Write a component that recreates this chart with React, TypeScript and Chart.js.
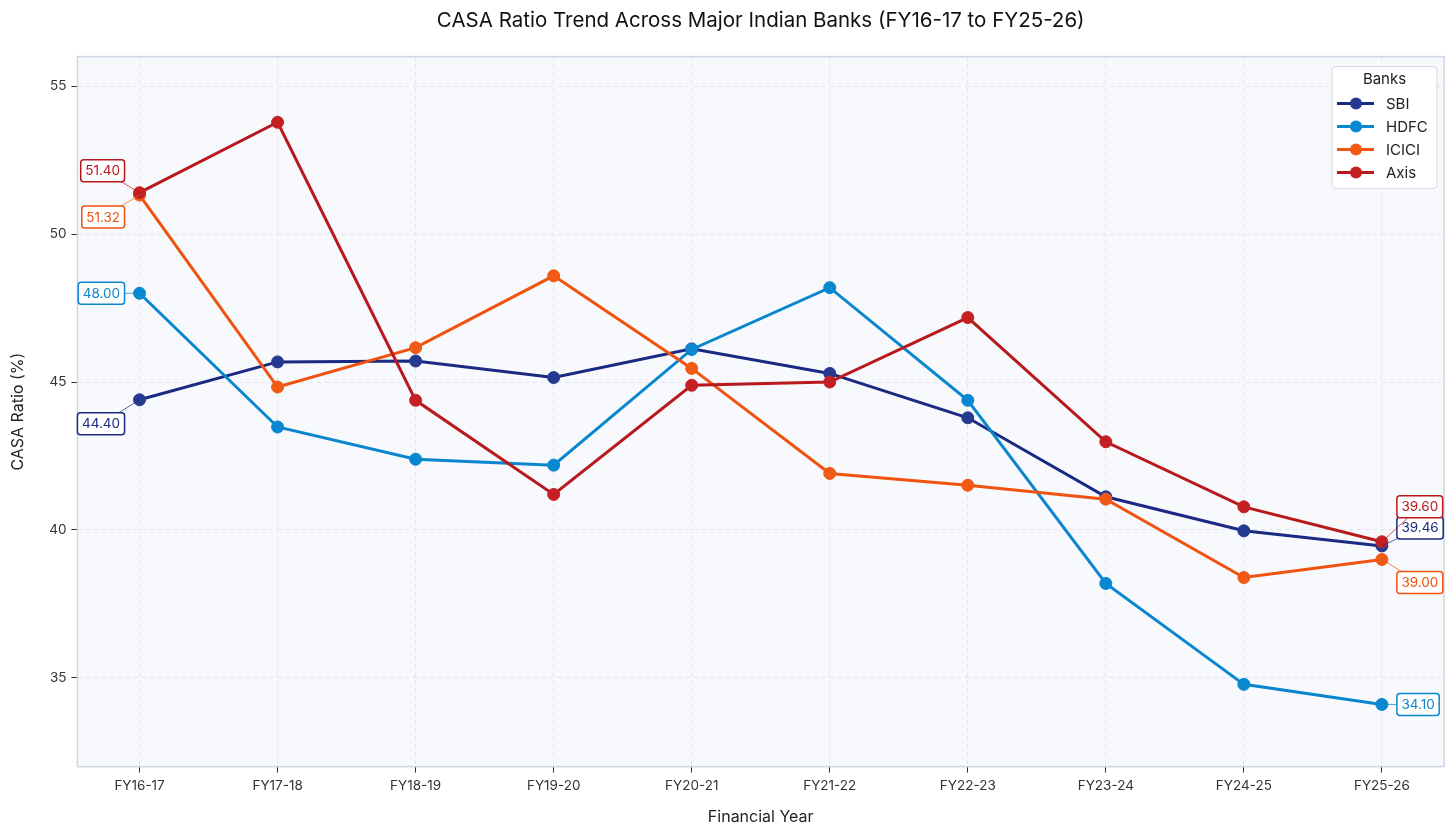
import React, { useEffect, useRef } from "react";
import { Chart, registerables } from "chart.js";

Chart.register(...registerables);

const categories = ["FY16-17", "FY17-18", "FY18-19", "FY19-20", "FY20-21", "FY21-22", "FY22-23", "FY23-24", "FY24-25", "FY25-26"];
const bankNames = ["SBI", "HDFC", "ICICI", "Axis"];
const sbiValues = [44.40, 45.68, 45.71, 45.15, 46.12, 45.29, 43.79, 41.12, 39.97, 39.46];
const hdfcValues = [48.00, 43.48, 42.39, 42.19, 46.10, 48.19, 44.38, 38.19, 34.78, 34.10];
const iciciValues = [51.32, 44.83, 46.16, 48.59, 45.46, 41.91, 41.51, 41.04, 38.39, 39.00];
const axisValues = [51.40, 53.78, 44.38, 41.20, 44.89, 45.00, 47.18, 42.98, 40.78, 39.60];
const yTickValues = [35, 40, 45, 50, 55];

// styles
const lineColors = ["#1a2a82", "#0a86cf", "#f0520f", "#b8191c"];
const markerColors = ["#24398f", "#0788d0", "#f05a14", "#c42024"];
const firstLabelDy = [24, 0, 22, -22];
const lastLabelDy = [-18, 0, 23, -35];
const FONT = "Inter, 'Noto Sans', 'DejaVu Sans', sans-serif";

function roundRect(ctx: CanvasRenderingContext2D, x: number, y: number, w: number, h: number, r: number) {
  ctx.beginPath();
  ctx.moveTo(x + r, y);
  ctx.lineTo(x + w - r, y);
  ctx.arcTo(x + w, y, x + w, y + r, r);
  ctx.lineTo(x + w, y + h - r);
  ctx.arcTo(x + w, y + h, x + w - r, y + h, r);
  ctx.lineTo(x + r, y + h);
  ctx.arcTo(x, y + h, x, y + h - r, r);
  ctx.lineTo(x, y + r);
  ctx.arcTo(x, y, x + r, y, r);
  ctx.closePath();
}

const areaPlugin = {
  id: "areaPlugin",
  beforeDraw(chart: any) {
    const { ctx, chartArea: a } = chart;
    ctx.save();
    ctx.fillStyle = "#f7f9fc";
    ctx.fillRect(a.left, a.top, a.right - a.left, a.bottom - a.top);
    ctx.restore();
  },
  beforeDatasetsDraw(chart: any) {
    const { ctx, chartArea: a } = chart;
    ctx.save();
    ctx.strokeStyle = "#ccd6e4";
    ctx.lineWidth = 1.5;
    ctx.strokeRect(a.left, a.top, a.right - a.left, a.bottom - a.top);
    ctx.restore();
  },
};

const labelPlugin = {
  id: "labelPlugin",
  afterDatasetsDraw(chart: any) {
    const { ctx } = chart;
    ctx.save();
    ctx.font = `13.5px ${FONT}`;
    ctx.textBaseline = "middle";
    chart.data.datasets.forEach((ds: any, di: number) => {
      const meta = chart.getDatasetMeta(di);
      const n = ds.data.length;
      const ends = [
        { idx: 0, dy: firstLabelDy[di], side: -1 },
        { idx: n - 1, dy: lastLabelDy[di], side: 1 },
      ];
      ends.forEach((e) => {
        const pt = meta.data[e.idx];
        const v = ds.data[e.idx].y;
        const text = v.toFixed(2);
        const tw = ctx.measureText(text).width;
        const w = tw + 9;
        const h = 22;
        const cy = pt.y + e.dy;
        const x = e.side < 0 ? pt.x - 15 - w : pt.x + 15;
        const cx = x + w / 2;
        ctx.strokeStyle = ds.borderColor;
        ctx.globalAlpha = 0.7;
        ctx.lineWidth = 1;
        ctx.beginPath();
        ctx.moveTo(pt.x, pt.y);
        ctx.lineTo(cx, cy);
        ctx.stroke();
        ctx.globalAlpha = 1;
        roundRect(ctx, x, cy - h / 2, w, h, 3);
        ctx.fillStyle = "#ffffff";
        ctx.fill();
        ctx.lineWidth = 1.5;
        ctx.strokeStyle = ds.borderColor;
        ctx.stroke();
        ctx.fillStyle = ds.borderColor;
        ctx.textAlign = "center";
        ctx.fillText(text, cx, cy + 0.5);
      });
    });
    ctx.restore();
  },
};

const legendPlugin = {
  id: "legendPlugin",
  afterDraw(chart: any) {
    const { ctx, chartArea: a } = chart;
    const w = 105;
    const h = 122;
    const x = a.right - 7 - w;
    const y = a.top + 10;
    ctx.save();
    roundRect(ctx, x, y, w, h, 4);
    ctx.fillStyle = "rgba(255,255,255,0.92)";
    ctx.fill();
    ctx.strokeStyle = "#d2d9e3";
    ctx.lineWidth = 1;
    ctx.stroke();
    ctx.fillStyle = "#222";
    ctx.font = `15px ${FONT}`;
    ctx.textAlign = "center";
    ctx.textBaseline = "middle";
    ctx.fillText("Banks", x + w / 2, y + 13);
    ctx.textAlign = "left";
    chart.data.datasets.forEach((ds: any, i: number) => {
      const ry = y + 37 + i * 23;
      ctx.strokeStyle = ds.borderColor;
      ctx.lineWidth = 3;
      ctx.beginPath();
      ctx.moveTo(x + 5, ry);
      ctx.lineTo(x + 42, ry);
      ctx.stroke();
      ctx.fillStyle = ds.pointBackgroundColor;
      ctx.beginPath();
      ctx.arc(x + 24, ry, 6, 0, Math.PI * 2);
      ctx.fill();
      ctx.fillStyle = "#222";
      ctx.fillText(ds.label, x + 54, ry + 0.5);
    });
    ctx.restore();
  },
};

export default function App() {
  const ref = useRef<HTMLCanvasElement>(null);
  useEffect(() => {
    document.body.style.margin = "0";
    Chart.defaults.font.family = FONT;
    const series = [sbiValues, hdfcValues, iciciValues, axisValues];
    const chart = new Chart(ref.current as HTMLCanvasElement, {
      type: "line",
      data: {
        datasets: series.map((vals, i) => ({
          label: bankNames[i],
          data: vals.map((v, j) => ({ x: j, y: v })),
          borderColor: lineColors[i],
          backgroundColor: markerColors[i],
          pointBackgroundColor: markerColors[i],
          pointBorderColor: markerColors[i],
          pointBorderWidth: 1,
          pointRadius: 6,
          borderWidth: 3,
          tension: 0,
          order: 4 - i,
        })),
      },
      options: {
        animation: false,
        responsive: true,
        maintainAspectRatio: false,
        layout: { padding: { left: 0, right: 12, top: 0, bottom: 0 } },
        plugins: {
          legend: { display: false },
          tooltip: { enabled: false },
          title: {
            display: true,
            fullSize: false,
            text: "CASA Ratio Trend Across Major Indian Banks (FY16-17 to FY25-26)",
            color: "#111",
            font: { size: 20.5, weight: "normal", family: FONT },
            padding: { top: 9, bottom: 23 },
          },
        },
        scales: {
          x: {
            type: "linear",
            min: -0.45,
            max: categories.length - 1 + 0.45,
            afterBuildTicks: (scale: any) => {
              scale.ticks = categories.map((_, i) => ({ value: i }));
            },
            ticks: {
              callback: (v: any) => categories[v] ?? "",
              color: "#333",
              font: { size: 13.5 },
              padding: 5,
              maxRotation: 0,
              autoSkip: false,
            },
            grid: { color: "#dfe5ee", tickColor: "#333", tickLength: 6, lineWidth: 1 },
            border: { display: false, dash: [4, 4] },
            title: {
              display: true,
              text: "Financial Year",
              color: "#222",
              font: { size: 16 },
              padding: { top: 9, bottom: 12 },
            },
          },
          y: {
            type: "linear",
            min: 32,
            max: 56,
            afterBuildTicks: (scale: any) => {
              scale.ticks = yTickValues.map((v) => ({ value: v }));
            },
            ticks: { color: "#333", font: { size: 13.5 }, padding: 5 },
            grid: { color: "#dfe5ee", tickColor: "#333", tickLength: 6, lineWidth: 1 },
            border: { display: false, dash: [4, 4] },
            title: {
              display: true,
              text: "CASA Ratio (%)",
              color: "#222",
              font: { size: 16 },
              padding: { top: 9, bottom: 16 },
            },
          },
        },
      },
      plugins: [areaPlugin, labelPlugin, legendPlugin],
    } as any);
    return () => chart.destroy();
  }, []);
  return (
    <div style={{ width: 1456, height: 839, position: "relative" }}>
      <canvas ref={ref} />
    </div>
  );
}
